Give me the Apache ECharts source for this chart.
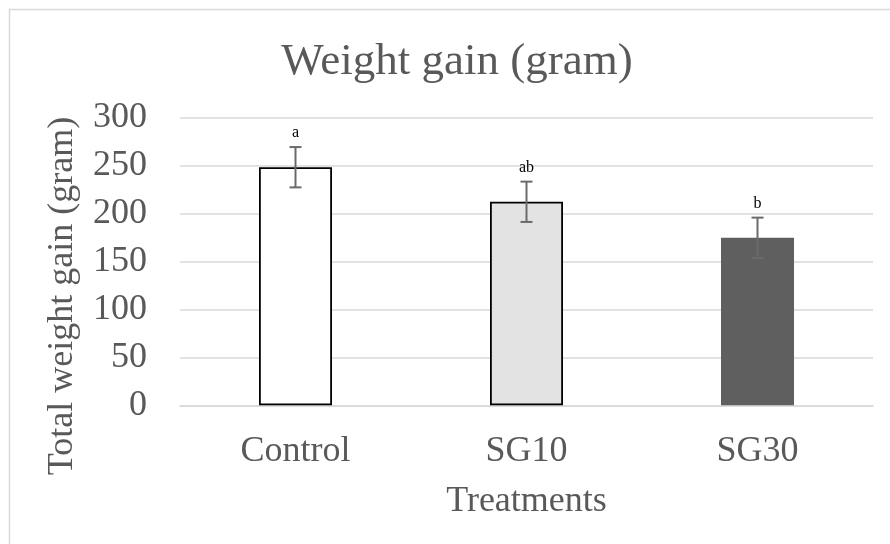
<!DOCTYPE html>
<html>
<head>
<meta charset="utf-8">
<script src="https://cdn.jsdelivr.net/npm/echarts@6/dist/echarts.min.js"></script>
<style>html,body{margin:0;padding:0;background:#fff}#c{width:890px;height:544px}</style>
</head>
<body>
<div id="c"></div>
<script>
var categories = ['Control', 'SG10', 'SG30'];
var values = [248, 212, 174.5];
var errors = [21, 21, 21];
var letters = ['a', 'ab', 'b'];
var yTicks = [0, 50, 100, 150, 200, 250, 300];
var yAxisTitle = 'Total weight gain (gram)';

var FONT = '"Liberation Serif", "Times New Roman", serif';
var TXT = '#595959';

var barStyles = [
  {color: '#ffffff', borderColor: '#000000', borderWidth: 1.8},
  {color: '#e3e3e3', borderColor: '#000000', borderWidth: 1.8},
  {color: '#5f5f5f', borderWidth: 0}
];

var chart = echarts.init(document.getElementById('c'), null, {renderer: 'canvas'});
chart.setOption({
  animation: false,
  backgroundColor: '#fff',
  graphic: [{
    type: 'rect', silent: true, z: -10,
    shape: {x: 9.5, y: 9.5, width: 950, height: 650},
    style: {fill: 'none', stroke: '#d9d9d9', lineWidth: 1.5}
  }, {
    type: 'text', silent: true,
    x: 63, y: 296, rotation: Math.PI / 2,
    style: {
      text: yAxisTitle, font: '36px ' + FONT, fill: TXT,
      align: 'center', verticalAlign: 'middle'
    }
  }],
  title: {
    text: 'Weight gain (gram)',
    left: 452, top: 35, textAlign: 'center',
    textStyle: {fontFamily: FONT, fontSize: 45, fontWeight: 'normal', color: TXT}
  },
  grid: {left: 180, right: 17, top: 117.3, bottom: 138.7, containLabel: false},
  xAxis: {
    type: 'category',
    data: categories,
    name: 'Treatments',
    nameLocation: 'middle',
    nameGap: 78,
    nameTextStyle: {fontFamily: FONT, fontSize: 36, color: TXT},
    axisLine: {show: true, lineStyle: {color: '#d9d9d9', width: 1.5}},
    axisTick: {show: false},
    axisLabel: {fontFamily: FONT, fontSize: 36, color: TXT, margin: 28}
  },
  yAxis: {
    type: 'value',
    min: 0, max: 300, interval: 50,
    axisLine: {show: false},
    axisTick: {show: false},
    splitLine: {lineStyle: {color: '#d9d9d9', width: 1.5}},
    axisLabel: {
      fontFamily: FONT, fontSize: 36, color: TXT, margin: 33,
      formatter: function (v) { return yTicks.indexOf(v) >= 0 ? String(v) : ''; }
    }
  },
  series: [{
    type: 'bar',
    barWidth: 73,
    data: values.map(function (v, i) { return {value: v, itemStyle: barStyles[i]}; }),
    z: 2
  }, {
    type: 'custom',
    z: 5,
    data: values.map(function (v, i) { return [i, v, errors[i]]; }),
    renderItem: function (params, api) {
      var i = api.value(0), v = api.value(1), e = api.value(2);
      var top = api.coord([i, v + e]);
      var bot = api.coord([i, v - e]);
      var x = top[0];
      var cap = 6;
      var ls = {stroke: '#6a6a6a', lineWidth: 2};
      return {
        type: 'group',
        children: [
          {type: 'line', shape: {x1: x, y1: top[1], x2: x, y2: bot[1]}, style: ls},
          {type: 'line', shape: {x1: x - cap, y1: top[1], x2: x + cap, y2: top[1]}, style: ls},
          {type: 'line', shape: {x1: x - cap, y1: bot[1], x2: x + cap, y2: bot[1]}, style: ls},
          {type: 'text', style: {
            text: letters[params.dataIndex], x: x, y: top[1] - 14,
            align: 'center', verticalAlign: 'middle',
            font: '16px ' + FONT, fill: '#000'
          }}
        ]
      };
    }
  }]
});
</script>
</body>
</html>
